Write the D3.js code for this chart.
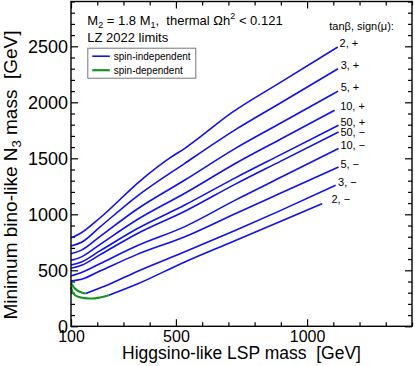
<!DOCTYPE html>
<html>
  <head>
    <meta charset="UTF-8" />
    <title>Minimum bino-like N3 mass</title>
    <script src="https://d3js.org/d3.v7.min.js"></script>
    <style>
      * {
        margin: 0;
        padding: 0;
      }
      body {
        background-color: #ffffff;
      }
      svg {
        display: block;
      }
      text {
        font-family: "Liberation Sans", Arial, Helvetica, sans-serif;
        fill: #000000;
        white-space: pre;
      }
      .si {
        fill: none;
        stroke: #1010f0;
        stroke-width: 1.6;
      }
      .sd {
        fill: none;
        stroke: #14961e;
        stroke-width: 2.2;
      }
    </style>
  </head>
  <body>
    <svg id="chart" width="415" height="366"></svg>
  </body>
  <script>
    // curve labels: tan(beta), sign(mu)
    const curveLabels = ["2, +", "3, +", "5, +", "10, +", "50, +", "50, \u2212", "10, \u2212", "5, \u2212", "3, \u2212", "2, \u2212"];

    // spin-independent limits, [LSP mass, N3 mass] in GeV
    const si2p = [[100, 789], [135, 828], [210, 967], [363, 1297], [477, 1503], [534, 1589], [717, 1914], [900, 2180], [1117, 2494]];
    const si3p = [[100, 716], [140, 750], [210, 886], [350, 1158], [534, 1455], [730, 1760], [900, 1996], [1118, 2300]];
    const si5p = [[100, 647], [140, 680], [210, 801], [350, 1043], [534, 1306], [730, 1593], [900, 1815], [1118, 2100]];
    const si10p = [[100, 589], [140, 620], [210, 730], [350, 949], [534, 1188], [730, 1458], [900, 1672], [1105, 1929]];
    const si50p = [[100, 547], [140, 575], [210, 673], [350, 869], [534, 1083], [730, 1330], [900, 1533], [1120, 1795]];
    const si50m = [[100, 518], [140, 545], [210, 638], [350, 824], [534, 1027], [730, 1274], [900, 1475], [1120, 1735]];
    const si10m = [[100, 450], [140, 480], [210, 559], [350, 717], [534, 890], [730, 1131], [900, 1330], [1120, 1587]];
    const si5m = [[100, 405], [140, 420], [210, 493], [350, 640], [534, 800], [730, 1010], [900, 1190], [1120, 1423]];
    const si3m = [[156, 293], [250, 380], [350, 487], [534, 665], [730, 860], [900, 1035], [1109, 1259]];
    const si2m = [[244, 277], [350, 375], [534, 575], [700, 740], [900, 938], [1058, 1095]];

    // spin-dependent limits (low mass end of the 3,- and 2,- curves)
    const sd3m = [[100, 385], [110, 350], [122, 322], [140, 302], [156, 293]];
    const sd2m = [[100, 350], [104, 315], [112, 285], [130, 262], [160, 250], [180, 248], [210, 257], [244, 277]];

    // where each curve label sits (GeV units, text baseline)
    const labelX = [1124, 1128, 1128, 1126, 1127, 1127, 1127, 1127, 1118, 1093];
    const labelY = [2491, 2295, 2104, 1927, 1788, 1699, 1580, 1411, 1253, 1104];

    const xMajor = [100, 500, 1000];
    const yMajor = [0, 500, 1000, 1500, 2000, 2500];

    const siCurves = [si2p, si3p, si5p, si10p, si50p, si50m, si10m, si5m, si3m, si2m];
    const sdCurves = [sd3m, sd2m];

    const svg = d3.select("#chart");
    const plotLeft = 71, plotRight = 412, plotTop = 1.5, plotBottom = 326.3;

    const x = d3.scaleLinear().domain([100, 1400]).range([plotLeft, plotRight]);
    const y = d3.scaleLinear().domain([0, 2900]).range([plotBottom, plotTop]);

    const xMinor = d3.range(100, 1401, 100).filter((v) => !xMajor.includes(v));
    const yMinor = d3.range(0, 2901, 100).filter((v) => !yMajor.includes(v));

    // axes, ticks inward on all four sides
    function addAxis(axis, tx, ty, labelSize) {
      const g = svg.append("g").attr("transform", `translate(${tx},${ty})`).call(axis);
      g.select(".domain").remove();
      g.selectAll("line").attr("stroke", "#000").attr("stroke-width", 1.2);
      g.selectAll("text").style("font-size", labelSize + "px").attr("fill", "#000");
      return g;
    }
    addAxis(d3.axisBottom(x).tickValues(xMajor).tickSize(-7).tickPadding(4).tickFormat(d3.format("d")), 0, plotBottom, 16);
    addAxis(d3.axisBottom(x).tickValues(xMinor).tickSize(-4).tickFormat(""), 0, plotBottom, 16);
    addAxis(d3.axisTop(x).tickValues(xMajor).tickSize(-7).tickFormat(""), 0, plotTop, 16);
    addAxis(d3.axisTop(x).tickValues(xMinor).tickSize(-4).tickFormat(""), 0, plotTop, 16);
    addAxis(d3.axisLeft(y).tickValues(yMajor).tickSize(-7).tickPadding(3).tickFormat(d3.format("d")), plotLeft, 0, 18);
    addAxis(d3.axisLeft(y).tickValues(yMinor).tickSize(-4).tickFormat(""), plotLeft, 0, 18);
    addAxis(d3.axisRight(y).tickValues(yMajor).tickSize(-7).tickFormat(""), plotRight, 0, 18);
    addAxis(d3.axisRight(y).tickValues(yMinor).tickSize(-4).tickFormat(""), plotRight, 0, 18);

    const line = d3.line()
      .x((d) => x(d[0]))
      .y((d) => y(d[1]))
      .curve(d3.curveMonotoneX);

    svg.selectAll(".si")
      .data(siCurves)
      .enter()
      .append("path")
      .attr("class", "si")
      .attr("d", line);

    svg.selectAll(".sd")
      .data(sdCurves)
      .enter()
      .append("path")
      .attr("class", "sd")
      .attr("d", line);

    // curve labels
    svg.selectAll(".curve-label")
      .data(curveLabels)
      .enter()
      .append("text")
      .attr("class", "curve-label")
      .attr("x", (d, i) => x(labelX[i]))
      .attr("y", (d, i) => y(labelY[i]))
      .style("font-size", "11px")
      .text((d) => d);

    svg.append("text")
      .attr("x", 329.3)
      .attr("y", 30)
      .style("font-size", "11px")
      .text("tan\u03b2, sign(\u03bc):");

    // header text
    const head = svg.append("text").attr("x", 87.3).attr("y", 25).style("font-size", "13px");
    head.append("tspan").text("M");
    head.append("tspan").attr("dy", 3).style("font-size", "9px").text("2");
    head.append("tspan").attr("dy", -3).text(" = 1.8 M");
    head.append("tspan").attr("dy", 3).style("font-size", "9px").text("1");
    head.append("tspan").attr("dy", -3).text(",  thermal \u03a9h");
    head.append("tspan").attr("dy", -6).style("font-size", "9px").text("2");
    head.append("tspan").attr("dy", 6).text(" < 0.121");

    svg.append("text")
      .attr("x", 87.3)
      .attr("y", 41.7)
      .style("font-size", "13px")
      .text("LZ 2022 limits");

    // legend
    const legend = svg.append("g").attr("transform", "translate(87.3,47.7)");
    legend.append("rect")
      .attr("x", 0.5)
      .attr("y", 0.5)
      .attr("width", 108)
      .attr("height", 30)
      .attr("fill", "#fff")
      .attr("stroke", "#777")
      .attr("stroke-width", 1);
    [["spin-independent", "si"], ["spin-dependent", "sd"]].forEach((item, i) => {
      legend.append("line")
        .attr("class", item[1])
        .attr("x1", 5)
        .attr("x2", 22.5)
        .attr("y1", 8.5 + i * 14)
        .attr("y2", 8.5 + i * 14);
      legend.append("text")
        .attr("x", 26.5)
        .attr("y", 12 + i * 14)
        .style("font-size", "10px")
        .text(item[0]);
    });

    // frame
    svg.append("rect")
      .attr("x", plotLeft)
      .attr("y", plotTop)
      .attr("width", plotRight - plotLeft)
      .attr("height", plotBottom - plotTop)
      .attr("fill", "none")
      .attr("stroke", "#000")
      .attr("stroke-width", 1.4);

    // axis titles
    svg.append("text")
      .attr("x", (plotLeft + plotRight) / 2)
      .attr("y", 358.5)
      .attr("text-anchor", "middle")
      .style("font-size", "17.5px")
      .text("Higgsino-like LSP mass  [GeV]");

    const yt = svg.append("text")
      .attr("transform", "translate(17,175) rotate(-90)")
      .attr("text-anchor", "middle")
      .style("font-size", "19px");
    yt.append("tspan").text("Minimum bino-like N");
    yt.append("tspan").attr("dy", 4).style("font-size", "13px").text("3");
    yt.append("tspan").attr("dy", -4).text(" mass  [GeV]");
  </script>
</html>
